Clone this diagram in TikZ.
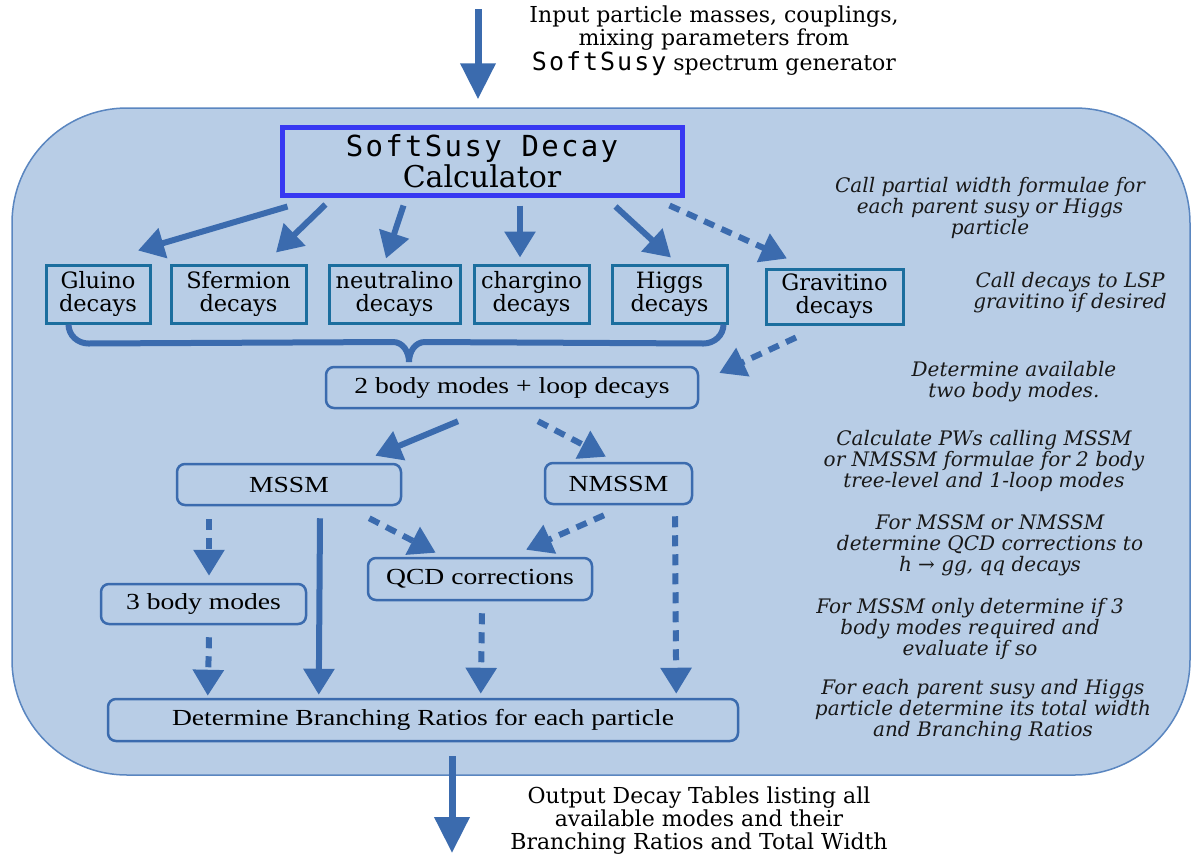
\documentclass[tikz,border=0pt]{standalone}
\usepackage{fontspec}
\setmainfont{DejaVu Serif}
\newfontfamily\libser{Liberation Serif}[FakeStretch=1.2]
\newfontfamily\monof{DejaVu Sans Mono}[LetterSpace=8]
\usetikzlibrary{arrows.meta,calc}
\definecolor{bgfill}{HTML}{B8CDE6}
\definecolor{bgline}{HTML}{5A86C0}
\definecolor{arr}{HTML}{3B6BAE}
\definecolor{mainb}{HTML}{3838F2}
\definecolor{boxb}{HTML}{1B6E9E}
\begin{document}
\begin{tikzpicture}[x=1pt,y=-1pt,
  solidarr/.style={draw=arr, line width=6pt, -{Triangle[width=30pt,length=26pt]}},
  dasharr/.style={solidarr, dash pattern=on 11pt off 8pt},
  bigarr/.style={draw=arr, line width=7pt, -{Triangle[width=34pt,length=36pt]}},
  partbox/.style={draw=boxb, line width=3pt, fill=bgfill, align=center, inner sep=0pt,
     minimum height=58pt, font=\fontsize{22.5}{23}\selectfont},
  modebox/.style={draw=arr, line width=2.5pt, rounded corners=8pt, fill=bgfill, inner sep=0pt,
     minimum height=41pt, font=\libser\fontsize{23}{26}\selectfont},
  note/.style={align=center, font=\itshape\fontsize{20}{21}\selectfont, text=black!90},
  plain/.style={align=center, font=\fontsize{22}{23}\selectfont}
]
\useasboundingbox (0,0) rectangle (1192,857);
% background frame
\node[draw=bgline, line width=1.5pt, fill=bgfill, rounded corners=115pt,
      minimum width=1178pt, minimum height=667pt, inner sep=0pt] (frame) at (601,441.5) {};

% main box
\node[draw=mainb, line width=5pt, fill=bgfill, minimum width=400pt, minimum height=68pt,
      align=center, inner sep=0pt] (main) at (482,161)
  {{\monof\fontsize{29}{33}\selectfont SoftSusy Decay}\\[1pt]{\fontsize{30}{33}\selectfont Calculator}};

% particle boxes
\node[partbox, minimum width=104pt] (gluino) at (98,294) {Gluino\\decays};
\node[partbox, minimum width=135pt] (sfermion) at (238.5,294) {Sfermion\\decays};
\node[partbox, minimum width=131pt] (neutralino) at (394.5,294) {neutralino\\decays};
\node[partbox, minimum width=115pt] (chargino) at (531.5,294) {chargino\\decays};
\node[partbox, minimum width=115pt] (higgs) at (669.5,294) {Higgs\\decays};
\node[partbox, minimum width=137pt, minimum height=55pt] (gravitino) at (834.5,296.5) {Gravitino\\decays};

% mode boxes
\node[modebox, minimum width=372pt] (twobody) at (512,387.5) {2 body modes + loop decays};
\node[modebox, minimum width=224pt] (mssm) at (289,484.5) {MSSM};
\node[modebox, minimum width=147pt] (nmssm) at (618.5,483.5) {NMSSM};
\node[modebox, minimum width=205pt, minimum height=40pt] (threebody) at (203.5,604) {3 body modes};
\node[modebox, minimum width=224pt, minimum height=42pt] (qcd) at (480,579) {QCD corrections};
\node[modebox, minimum width=630pt, minimum height=42pt] (det) at (423,720) {Determine Branching Ratios for each particle};

% brace
\draw[draw=arr, line width=6pt, line join=round]
  ($(gluino.south west)+(24,0)$) to[out=-90,in=180] ($(gluino.south west)+(44,19)$)
  -- (393,342) to[out=0,in=90] (409,362);
\draw[draw=arr, line width=6pt, line join=round]
  (409,362) to[out=90,in=180] (425,342)
  -- ($(higgs.south east)+(-25,19)$) to[out=0,in=-90] ($(higgs.south east)+(-5,0)$);

% arrows from main
\draw[solidarr] ($(main.south west)+(8,9)$) -- ($(gluino.north)+(40,-13)$);
\draw[solidarr] ($(main.south west)+(46,7)$) -- ($(sfermion.north)+(37.5,-11)$);
\draw[solidarr] ($(main.south west)+(124,8)$) -- ($(neutralino.north)+(-8.5,-5)$);
\draw[solidarr] ($(main.south)+(38,8)$) -- ($(chargino.north)+(-11.5,-6)$);
\draw[solidarr] ($(main.south east)+(-69,9)$) -- ($(higgs.north)+(1.5,-6)$);
\draw[dasharr] ($(main.south east)+(-15,8)$) -- ($(gravitino.north)+(-47.5,-9)$);

\draw[dasharr] ($(gravitino.south)+(-38.5,12)$) -- ($(twobody.east)+(20,-14.5)$);
\draw[solidarr] ($(twobody.south)+(-54,12)$) -- ($(mssm.north east)+(-27,-7)$);
\draw[dasharr] ($(twobody.south)+(26,12)$) -- ($(nmssm.north)+(-12.5,-5)$);

\draw[dasharr] ($(mssm.south)+(-80,13)$) -- ($(threebody.north)+(5.5,-7)$);
\draw[solidarr] ($(mssm.south)+(31,12)$) -- ($(det.north west)+(212,-3)$);
\draw[dasharr] ($(mssm.south east)+(-33,12)$) -- ($(qcd.north west)+(69,-4)$);
\draw[dasharr] ($(nmssm.south)+(-14.5,10)$) -- ($(qcd.north)+(46,-7)$);
\draw[dasharr] ($(threebody.south)+(5.5,12)$) -- ($(det.north west)+(101,-2)$);
\draw[dasharr] ($(qcd.south)+(2,12)$) -- ($(det.north west)+(374,-4)$);
\draw[dasharr] ($(nmssm.south)+(56.5,11)$) -- ($(det.north east)+(-63,-4)$);

% input / output
\coordinate (in) at (478,9);
\coordinate (out) at (452,853);
\draw[bigarr] (in) -- ($(frame.north)+(-123,-8)$);
\draw[bigarr] ($(det.south)+(29,14)$) -- (out);

\node[plain] (intext) at (714,41)
  {Input particle masses, couplings,\\mixing parameters from\\{\monof\fontsize{25}{23}\selectfont SoftSusy} spectrum generator};
\node[plain] (outtext) at (699,821)
  {Output Decay Tables listing all\\available modes and their\\Branching Ratios and Total Width};

% notes
\node[note] (n1) at (990,208) {Call partial width formulae for\\each parent susy or Higgs\\particle};
\node[note] (n2) at (1070,293) {Call decays to LSP\\gravitino if desired};
\node[note] (n3) at (1014,382) {Determine available\\two body modes.};
\node[note] (n4) at (984,461) {Calculate PWs calling MSSM\\or NMSSM formulae for 2 body\\tree-level and 1-loop modes};
\node[note] (n5) at (990,545) {For MSSM or NMSSM\\determine QCD corrections to\\h → gg, qq decays};
\node[note] (n6) at (970,629) {For MSSM only determine if 3\\body modes required and\\evaluate if so};
\node[note] (n7) at (983,710) {For each parent susy and Higgs\\particle determine its total width\\and Branching Ratios};
\end{tikzpicture}
\end{document}
